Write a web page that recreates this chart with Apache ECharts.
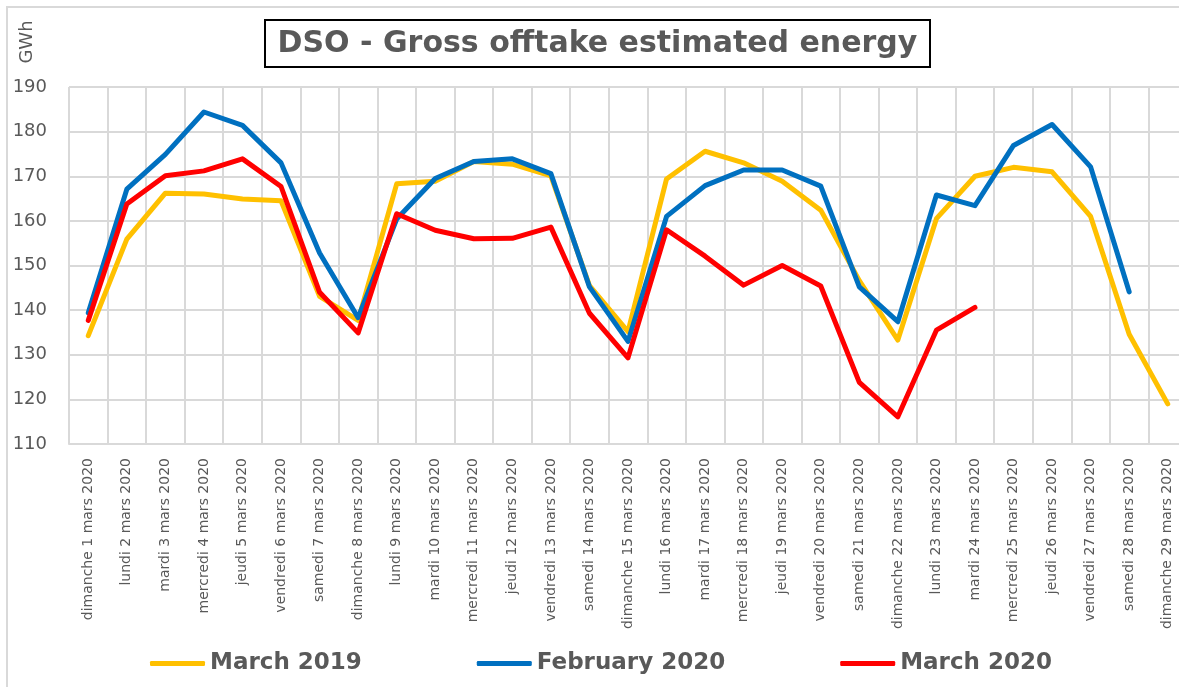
<!DOCTYPE html>
<html>
<head>
<meta charset="utf-8">
<script src="https://cdn.jsdelivr.net/npm/echarts@6/dist/echarts.min.js"></script>
<style>
html,body{margin:0;padding:0;background:#fff;}
#chart{width:1179px;height:687px;}
</style>
</head>
<body>
<div id="chart"></div>
<script>
var categories = [
  'dimanche 1 mars 2020','lundi 2 mars 2020','mardi 3 mars 2020','mercredi 4 mars 2020',
  'jeudi 5 mars 2020','vendredi 6 mars 2020','samedi 7 mars 2020','dimanche 8 mars 2020',
  'lundi 9 mars 2020','mardi 10 mars 2020','mercredi 11 mars 2020','jeudi 12 mars 2020',
  'vendredi 13 mars 2020','samedi 14 mars 2020','dimanche 15 mars 2020','lundi 16 mars 2020',
  'mardi 17 mars 2020','mercredi 18 mars 2020','jeudi 19 mars 2020','vendredi 20 mars 2020',
  'samedi 21 mars 2020','dimanche 22 mars 2020','lundi 23 mars 2020','mardi 24 mars 2020',
  'mercredi 25 mars 2020','jeudi 26 mars 2020','vendredi 27 mars 2020','samedi 28 mars 2020',
  'dimanche 29 mars 2020'
];
var seriesNames = ['March 2019', 'February 2020', 'March 2020'];
var march2019 = [134.3, 155.9, 166.2, 166.0, 164.9, 164.5, 143.1, 137.7, 168.3, 168.9,
  173.3, 172.7, 170.1, 145.5, 135.2, 169.4, 175.6, 173.0, 168.9, 162.4,
  146.6, 133.3, 160.5, 170.0, 172.0, 171.0, 161.0, 134.6, 119.0];
var february2020 = [139.4, 167.1, 174.9, 184.4, 181.4, 173.0, 152.8, 138.3, 160.4, 169.5,
  173.3, 173.9, 170.6, 145.2, 133.0, 161.0, 167.9, 171.4, 171.4, 167.8,
  145.2, 137.4, 165.8, 163.4, 176.9, 181.6, 172.1, 144.1, null];
var march2020 = [137.7, 163.8, 170.1, 171.2, 173.9, 167.7, 144.0, 134.9, 161.6, 157.9,
  156.0, 156.1, 158.6, 139.3, 129.3, 158.0, 152.1, 145.6, 150.0, 145.4,
  123.8, 116.1, 135.5, 140.6, null, null, null, null, null];
var yTicks = { min: 110, max: 190, interval: 10 };
var titleText = 'DSO - Gross offtake estimated energy';
var unitText = 'GWh';

var FONT = 'DejaVu Sans';
var TXT = '#595959';
var GRIDC = '#D9D9D9';
var colors = ['#FFC000', '#0070C0', '#FF0000'];

var chart = echarts.init(document.getElementById('chart'), null, { renderer: 'canvas' });

function mkSeries(name, data, color) {
  return {
    name: name, type: 'line', data: data, showSymbol: false, symbol: 'none',
    connectNulls: false,
    itemStyle: { color: color },
    lineStyle: { color: color, width: 5, cap: 'round', join: 'round' },
    emphasis: { disabled: true }
  };
}

chart.setOption({
  animation: false,
  backgroundColor: '#ffffff',
  grid: { left: 69, top: 87, width: 1118, height: 357, containLabel: false, outerBoundsMode: 'none' },
  legend: {
    data: seriesNames,
    left: 150, top: 652, padding: 0,
    itemWidth: 55, itemHeight: 5, itemGap: 115,
    icon: 'roundRect',
    textStyle: { fontFamily: FONT, fontSize: 23, fontWeight: 'bold', color: TXT }
  },
  xAxis: {
    type: 'category', data: categories, boundaryGap: true,
    axisLine: { show: true, lineStyle: { color: GRIDC, width: 2 } },
    axisTick: { show: false },
    splitLine: { show: true, interval: 0, lineStyle: { color: GRIDC, width: 2 } },
    axisLabel: { interval: 0, rotate: 90, margin: 14, fontFamily: FONT, fontSize: 14, color: TXT }
  },
  yAxis: {
    type: 'value', min: yTicks.min, max: yTicks.max, interval: yTicks.interval,
    axisLine: { show: false }, axisTick: { show: false },
    splitLine: { show: true, lineStyle: { color: GRIDC, width: 2 } },
    axisLabel: { margin: 22, fontFamily: FONT, fontSize: 18, color: TXT }
  },
  graphic: [
    { type: 'rect', z: -10, silent: true,
      shape: { x: 7, y: 7, width: 1400, height: 900 },
      style: { fill: null, stroke: GRIDC, lineWidth: 2 } },
    { type: 'rect', z: 10, silent: true,
      shape: { x: 265, y: 20, width: 665, height: 47 },
      style: { fill: '#ffffff', stroke: '#000000', lineWidth: 2 } },
    { type: 'text', z: 11, silent: true, x: 597.5, y: 44,
      style: { text: titleText, fontFamily: FONT, fontSize: 30, fontWeight: 'bold',
               fill: TXT, align: 'center', verticalAlign: 'middle' } },
    { type: 'text', z: 11, silent: true, x: 27, y: 42, rotation: Math.PI / 2,
      style: { text: unitText, fontFamily: FONT, fontSize: 18, fill: TXT,
               align: 'center', verticalAlign: 'middle' } }
  ],
  series: [
    mkSeries(seriesNames[0], march2019, colors[0]),
    mkSeries(seriesNames[1], february2020, colors[1]),
    mkSeries(seriesNames[2], march2020, colors[2])
  ]
});
</script>
</body>
</html>
